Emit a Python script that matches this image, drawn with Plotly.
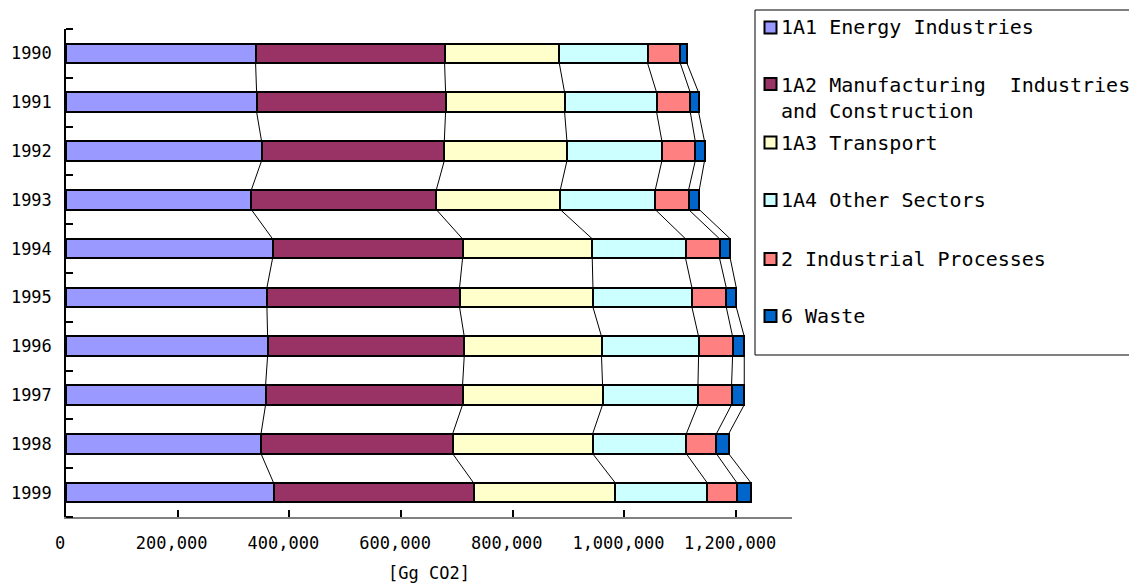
import plotly.graph_objects as go

# Emissions by sector, Gg CO2
years = ["1990", "1991", "1992", "1993", "1994", "1995", "1996", "1997", "1998", "1999"]
energy_industries = [339500, 341300, 350200, 331800, 369900, 359800, 361000, 357400, 349100, 371700]
manufacturing = [338400, 338400, 327200, 331200, 340200, 344900, 352100, 352700, 343100, 358100]
transport = [205400, 213100, 219600, 222000, 232200, 238900, 245800, 250700, 250700, 253700]
other_sectors = [158100, 164700, 170100, 170100, 167100, 177200, 173800, 170800, 167700, 164700]
industrial_processes = [58500, 60300, 59700, 59700, 60900, 61500, 60900, 60200, 53800, 53200]
waste = [12000, 14900, 16600, 19100, 19100, 17900, 20900, 22700, 22000, 25100]

series_names = [
    "1A1 Energy Industries",
    "1A2 Manufacturing\u00a0 Industries<br>and Construction",
    "1A3 Transport",
    "1A4 Other Sectors",
    "2 Industrial Processes",
    "6 Waste",
]
series_values = [energy_industries, manufacturing, transport, other_sectors,
                 industrial_processes, waste]
series_colors = ["#9999FF", "#993366", "#FFFFCC", "#CCFFFF", "#FF8080", "#0066CC"]

x_tickvals = [0, 200000, 400000, 600000, 800000, 1000000, 1200000]
x_range = [0, 1300000]

W, H = 1130, 583
L, R, T, B = 66, 338, 29, 66
PW, PH = W - L - R, H - T - B
BAR_W = 0.4
MONO = "DejaVu Sans Mono"

def px_x(p):
    return (p - L) / PW

def px_y(p):
    return (H - B - p) / PH

pos = list(range(len(years)))
fig = go.Figure()

for name, vals, col in zip(series_names, series_values, series_colors):
    fig.add_trace(go.Bar(
        y=pos, x=vals, orientation="h", width=BAR_W, name=name,
        marker=dict(color=col, line=dict(color="#000000", width=2.3)),
        showlegend=False, hoverinfo="x+name",
    ))

# series lines joining each cumulative boundary between neighbouring bars
cum = []
running = [0] * len(years)
for vals in series_values:
    running = [a + b for a, b in zip(running, vals)]
    cum.append(list(running))

lx, ly = [], []
for bound in cum:
    for i in range(len(years) - 1):
        lx += [bound[i], bound[i + 1], None]
        ly += [i + BAR_W / 2, i + 1 - BAR_W / 2, None]
fig.add_trace(go.Scatter(x=lx, y=ly, mode="lines",
                         line=dict(color="#000000", width=1),
                         showlegend=False, hoverinfo="skip"))

# legend frame: open on the right, running off the page edge
frame = dict(color="#000000", width=1)
shapes = [
    dict(type="line", xref="paper", yref="paper", x0=px_x(755), x1=px_x(1129),
         y0=px_y(10), y1=px_y(10), line=frame, layer="above"),
    dict(type="line", xref="paper", yref="paper", x0=px_x(755), x1=px_x(1129),
         y0=px_y(355), y1=px_y(355), line=frame, layer="above"),
    dict(type="line", xref="paper", yref="paper", x0=px_x(755), x1=px_x(755),
         y0=px_y(10), y1=px_y(355), line=frame, layer="above"),
]
annotations = []
row_centers = [27.5, 84, 142.5, 200, 259, 316]
for name, col, yc in zip(series_names, series_colors, row_centers):
    shapes.append(dict(type="rect", xref="paper", yref="paper",
                       x0=px_x(764.5), x1=px_x(776.5),
                       y0=px_y(yc + 6), y1=px_y(yc - 6),
                       fillcolor=col, line=dict(color="#000000", width=2),
                       layer="above"))
    n_lines = name.count("<br>") + 1
    annotations.append(dict(
        xref="paper", yref="paper", x=px_x(779), y=px_y(yc + 13.5 * (n_lines - 1)),
        xanchor="left", yanchor="middle", align="left", showarrow=False,
        text=name, font=dict(family=MONO, size=20, color="#000000"),
    ))

fig.update_layout(
    width=W, height=H,
    margin=dict(l=L, r=R, t=T, b=B, autoexpand=False),
    paper_bgcolor="#FFFFFF", plot_bgcolor="#FFFFFF",
    barmode="stack", bargap=0,
    shapes=shapes, annotations=annotations,
    showlegend=False,
    font=dict(family=MONO, size=17, color="#000000"),
)

fig.update_xaxes(
    automargin=False,
    range=x_range, tickvals=x_tickvals, tickformat=",",
    showgrid=False, zeroline=False,
    showline=True, linecolor="#808080", linewidth=1.5,
    ticks="inside", ticklen=7, tickcolor="#000000", tickwidth=1.5,
    ticklabelstandoff=10, ticklabelshift=-6,
    tickfont=dict(family=MONO, size=17),
    title=dict(text="[Gg CO2]", font=dict(family=MONO, size=17), standoff=19),
)

fig.update_yaxes(
    automargin=False,
    range=[len(years) - 0.5, -0.5], tickvals=pos, ticktext=years,
    showgrid=False, zeroline=False,
    showline=True, linecolor="#000000", linewidth=1.5,
    ticks="",
    minor=dict(tickvals=[i - 0.5 for i in range(len(years) + 1)],
               ticks="inside", ticklen=7, tickcolor="#000000", tickwidth=1.5,
               showgrid=False),
    ticklabelstandoff=9,
    tickfont=dict(family=MONO, size=17),
)

fig.write_html("out.html")
